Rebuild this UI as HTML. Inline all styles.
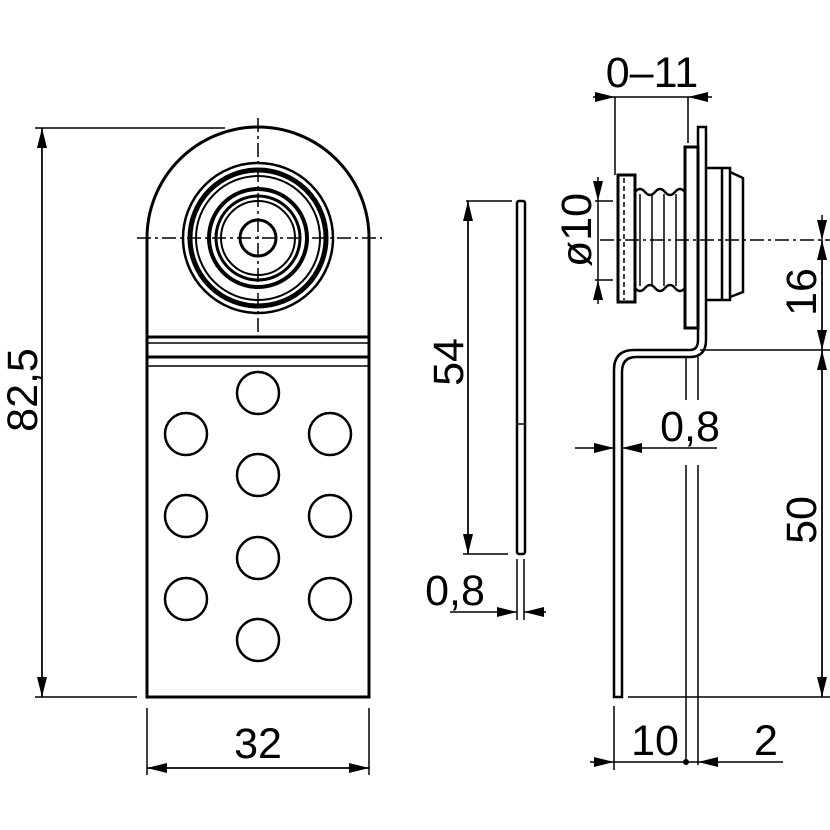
<!DOCTYPE html>
<html><head><style>html,body{margin:0;padding:0;background:#fff}svg{display:block}text{font-family:"Liberation Sans",sans-serif;font-size:43px;fill:#000}</style></head>
<body>
<svg width="830" height="830" viewBox="0 0 830 830" xmlns="http://www.w3.org/2000/svg">
<defs>
<marker id="a" viewBox="0 0 20 10" refX="20" refY="5" markerWidth="20" markerHeight="10" markerUnits="userSpaceOnUse" orient="auto"><path d="M0,0L20,5L0,10z" fill="#000"/></marker>
</defs>
<g fill="none" stroke="#000">
<path d="M147,697V238A111,111 0 0 1 369,238V697Z" stroke-width="3"/>
<path d="M147,337H369M147,357H369" stroke-width="3"/>
<path d="M147,343H369M147,366H369" stroke-width="1.5"/>
<circle cx="258" cy="238" r="75" stroke-width="2.5"/>
<circle cx="258" cy="238" r="68" stroke-width="5"/>
<circle cx="258" cy="238" r="62" stroke-width="2"/>
<circle cx="258" cy="238" r="49" stroke-width="4"/>
<circle cx="258" cy="238" r="42" stroke-width="3"/>
<circle cx="258" cy="238" r="37" stroke-width="2"/>
<circle cx="258" cy="238" r="18" stroke-width="3"/>
<path d="M258,118V335M137,238H382" stroke-width="1.5" stroke-dasharray="14,4,3,4"/>
<g stroke-width="2.5">
<circle cx="258" cy="393" r="21"/><circle cx="258" cy="475" r="21"/><circle cx="258" cy="558" r="21"/><circle cx="258" cy="640" r="21"/>
<circle cx="186" cy="434" r="21"/><circle cx="186" cy="516" r="21"/><circle cx="186" cy="599" r="21"/>
<circle cx="330" cy="434" r="21"/><circle cx="330" cy="516" r="21"/><circle cx="330" cy="599" r="21"/>
</g>
<g stroke-width="1.5">
<path d="M35,128H225M35,697H137M147,708V775M369,708V775"/>
<path d="M42,697V128" marker-end="url(#a)"/><path d="M42,128V697" marker-end="url(#a)"/>
<path d="M369,768H147" marker-end="url(#a)"/><path d="M147,768H369" marker-end="url(#a)"/>
</g>
<rect x="517" y="201" width="8" height="353" rx="2" stroke-width="2.5"/>
<path d="M517,424H525" stroke-width="1.5"/>
<g stroke-width="1.5">
<path d="M466,201H512M463,554H508M517,559V620M524,559V620"/>
<path d="M468,554V201" marker-end="url(#a)"/><path d="M468,201V554" marker-end="url(#a)"/>
<path d="M450,612H517" marker-end="url(#a)"/><path d="M546,612H524" marker-end="url(#a)"/>
</g>
<path d="M614,697V370Q614,350 634,350H690Q698,350 698,340V127H706V340Q706,357 690,357H636Q622,357 622,372V697Z" stroke-width="2.5"/>
<rect x="685" y="147" width="13" height="181" stroke-width="3"/>
<path d="M706,168H722V300H706M722,168H730V300H722M730,172L743,178V292L730,297" stroke-width="2.5"/>
<rect x="618" y="175" width="17" height="127" stroke-width="3"/>
<path d="M624,178V300" stroke-width="1.5" stroke-dasharray="5,3"/>
<path d="M635,192Q640,186 645,192T655,192T665,192T675,192T685,192M635,288Q640,294 645,288T655,288T665,288T675,288T685,288" stroke-width="2.5"/>
<path d="M640,194V286M652,194V286M664,194V286M676,194V286" stroke-width="1.5"/>
<path d="M600,240H830" stroke-width="1.5" stroke-dasharray="14,4,3,4"/>
<g stroke-width="1.5">
<path d="M615,97V175M688,97V143M595,201H613M595,280H613"/>
<path d="M593,97H615" marker-end="url(#a)"/><path d="M712,97H688" marker-end="url(#a)"/>
<path d="M615,97H688"/>
<path d="M598,177V201" marker-end="url(#a)"/><path d="M598,304V280" marker-end="url(#a)"/><path d="M598,201V280"/>
<path d="M700,350H830M628,697H830"/>
<path d="M822,215V240" marker-end="url(#a)"/><path d="M822,350V240" marker-end="url(#a)"/><path d="M822,240V350" marker-end="url(#a)"/>
<path d="M822,697V350" marker-end="url(#a)"/><path d="M822,350V697" marker-end="url(#a)"/>
<path d="M686,357V400M698,357V400M686,465V765M698,465V765M614,706V770"/>
<path d="M575,448H614" marker-end="url(#a)"/><path d="M717,448H622" marker-end="url(#a)"/>
<path d="M590,762H614" marker-end="url(#a)"/><path d="M783,762H698" marker-end="url(#a)"/><path d="M614,762H698"/>
</g>
<circle cx="686" cy="762" r="2.5" fill="#000"/>
</g>
<text x="258" y="758" text-anchor="middle">32</text>
<text transform="translate(37,390) rotate(-90)" text-anchor="middle">82,5</text>
<text transform="translate(463,362) rotate(-90)" text-anchor="middle">54</text>
<text x="455" y="605" text-anchor="middle">0,8</text>
<text x="652" y="87" text-anchor="middle">0–11</text>
<text transform="translate(591,230) rotate(-90)" text-anchor="middle">ø10</text>
<text transform="translate(816,292) rotate(-90)" text-anchor="middle">16</text>
<text transform="translate(816,520) rotate(-90)" text-anchor="middle">50</text>
<text x="690" y="441" text-anchor="middle">0,8</text>
<text x="655" y="755" text-anchor="middle">10</text>
<text x="766" y="755" text-anchor="middle">2</text>
</svg>
</body></html>
